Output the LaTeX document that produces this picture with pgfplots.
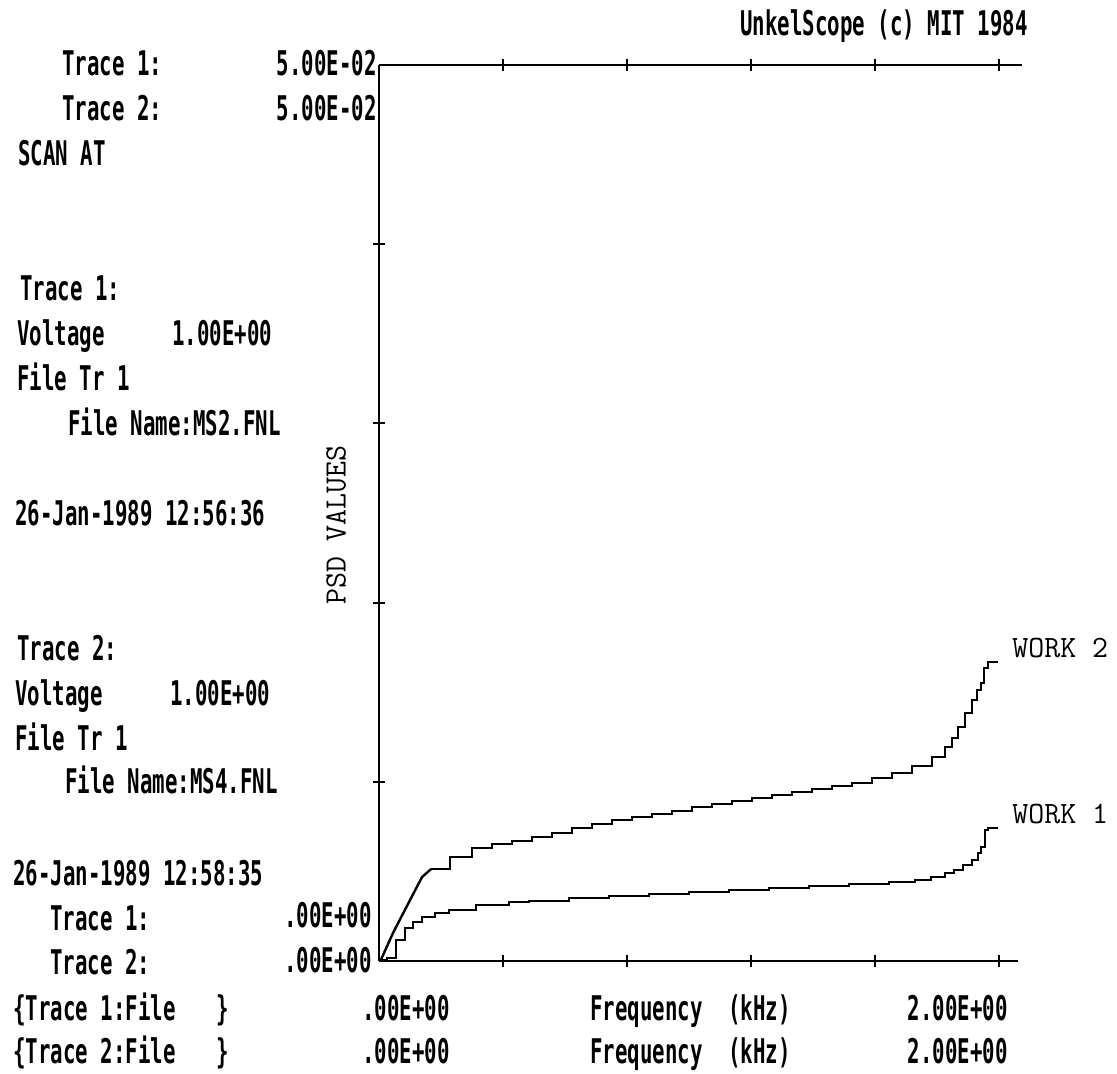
\documentclass[border=0pt]{standalone}
\usepackage{pgfplots}
\pgfplotsset{compat=1.18}
\usepackage{fontspec}
\newfontfamily\dm[FakeStretch=0.61,UprightFont={* Bold}]{DejaVu Sans Mono}
\newcommand{\dmf}{\dm\fontsize{17pt}{17pt}\selectfont}
\newcommand{\cmf}{\ttfamily\fontsize{15.5pt}{15.5pt}\selectfont}
% place text: left x (px), vertical centre (px)
\newcommand{\TL}[3]{\node[anchor=base west,inner sep=0pt] at ({#1*0.5pt},{-(#2+12.5)*0.5pt}) {\dmf #3};}
\newcommand{\TR}[3]{\node[anchor=base east,inner sep=0pt] at ({#1*0.5pt},{-(#2+12.5)*0.5pt}) {\dmf #3};}

\pgfplotstableread{
x y
0.006 0.00006
0.045 0.00156
0.100 0.00340
0.139 0.00469
0.168 0.00513
}\upperA
\pgfplotstableread{
x y
0.168 0.00513
0.229 0.00580
0.300 0.00631
0.365 0.00653
0.429 0.00670
0.494 0.00692
0.558 0.00714
0.623 0.00742
0.687 0.00764
0.752 0.00787
0.816 0.00804
0.881 0.00820
0.945 0.00837
1.010 0.00859
1.074 0.00876
1.139 0.00893
1.203 0.00910
1.268 0.00926
1.332 0.00943
1.397 0.00960
1.461 0.00977
1.526 0.00993
1.590 0.01021
1.655 0.01049
1.719 0.01088
1.784 0.01138
1.826 0.01194
1.848 0.01244
1.868 0.01306
1.890 0.01384
1.913 0.01456
1.929 0.01512
1.942 0.01551
1.952 0.01635
1.965 0.01668
1.997 0.01668
}\upperB
\pgfplotstableread{
x y
0.006 0.00006
0.026 0.00017
0.055 0.00117
0.084 0.00184
0.110 0.00218
0.139 0.00246
0.181 0.00268
0.226 0.00285
0.313 0.00312
0.419 0.00329
0.484 0.00335
0.613 0.00352
0.742 0.00363
0.871 0.00374
1.000 0.00385
1.129 0.00396
1.258 0.00407
1.387 0.00419
1.516 0.00430
1.645 0.00441
1.729 0.00452
1.781 0.00469
1.826 0.00491
1.855 0.00508
1.884 0.00536
1.913 0.00564
1.932 0.00603
1.942 0.00636
1.955 0.00731
1.965 0.00742
1.997 0.00742
}\workone

\begin{document}
\begin{tikzpicture}
\useasboundingbox (0,0) rectangle (558.5pt,-536.5pt);

\begin{axis}[
  at={(189.5pt,-480.5pt)}, anchor=south west,
  scale only axis, width=319.3pt, height=448pt,
  xmin=0, xmax=2.06, ymin=0, ymax=0.05,
  axis x line*=bottom, axis y line*=left,
  axis line style={line width=1.3pt,-},
  xtick={0.4,0.8,1.2,1.6,2.0}, ytick={0.01,0.02,0.03,0.04},
  xticklabels={}, yticklabels={}, scaled ticks=false,
  tick align=center, major tick length=6pt,
  tick style={line width=1pt,black},
  clip=false,
]
\addplot[black,line width=1.2pt] table {\upperA};
\addplot[black,line width=1.2pt,const plot] table {\upperB};
\addplot[black,line width=1.2pt,const plot] table {\workone};
\end{axis}

\begin{axis}[
  at={(189.5pt,-480.5pt)}, anchor=south west,
  scale only axis, width=321.5pt, height=448pt,
  xmin=0, xmax=2.074, ymin=0, ymax=0.05,
  axis x line*=top, hide y axis,
  axis line style={line width=1.3pt,-},
  xtick={0.4,0.8,1.2,1.6,2.0}, xticklabels={}, scaled ticks=false,
  tick align=center, major tick length=6pt,
  tick style={line width=1pt,black},
]
\end{axis}

% labels on curves
\node[anchor=base west,inner sep=0pt] at ({1012*0.5pt},{-(648+9)*0.5pt}) {\cmf WORK 2};
\node[anchor=base west,inner sep=0pt] at ({1012*0.5pt},{-(814+9)*0.5pt}) {\cmf WORK 1};
\node[rotate=90,inner sep=0pt] at ({336*0.5pt},{-525*0.5pt}) {\cmf PSD VALUES};

% header
\TL{740}{23}{UnkelScope (c) MIT 1984}
\TL{62}{63}{Trace 1:}
\TR{377}{63}{5.00E-02}
\TL{62}{108}{Trace 2:}
\TR{377}{108}{5.00E-02}
\TL{18}{153}{SCAN AT}

% trace 1 block
\TL{20}{288}{Trace 1:}
\TL{17}{333}{Voltage}
\TL{172}{333}{1.00E+00}
\TL{17}{378}{File Tr 1}
\TL{68}{423}{File Name:MS2.FNL}
\TL{15}{513}{26-Jan-1989 12:56:36}

% trace 2 block
\TL{17}{648}{Trace 2:}
\TL{15}{693}{Voltage}
\TL{170}{693}{1.00E+00}
\TL{15}{738}{File Tr 1}
\TL{65}{781}{File Name:MS4.FNL}
\TL{13}{873}{26-Jan-1989 12:58:35}

% bottom-left scale values
\TL{50}{918}{Trace 1:}
\TR{372}{915}{.00E+00}
\TL{50}{962}{Trace 2:}
\TR{372}{960}{.00E+00}

% x-axis rows
\TL{13}{1008}{\{Trace 1:File}
\TL{216}{1008}{\}}
\TL{362}{1008}{.00E+00}
\TL{590}{1008}{Frequency}
\TL{728}{1008}{(kHz)}
\TR{1008}{1008}{2.00E+00}
\TL{13}{1051}{\{Trace 2:File}
\TL{216}{1051}{\}}
\TL{362}{1051}{.00E+00}
\TL{590}{1051}{Frequency}
\TL{728}{1051}{(kHz)}
\TR{1008}{1051}{2.00E+00}
\end{tikzpicture}
\end{document}
